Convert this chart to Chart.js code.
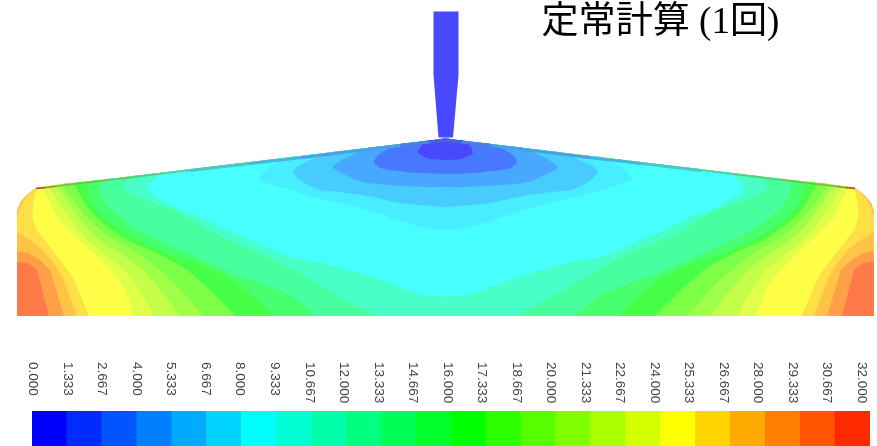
<!DOCTYPE html>
<html><head><meta charset="utf-8">
<style>
html,body{margin:0;padding:0;background:#fff}
#wrap{position:relative;width:877px;height:446px;overflow:hidden}
canvas{position:absolute;left:0}
#ttl{position:absolute;left:541.5px;top:-1px;font-size:37.1px;line-height:44px;white-space:nowrap;color:#000;font-family:"Liberation Serif","Noto Sans CJK JP",serif}
</style>
<script src="https://cdn.jsdelivr.net/npm/chart.js@4"></script>
</head><body>
<div id="wrap">
<canvas id="field" width="877" height="330" style="top:0"></canvas>
<canvas id="bar" width="877" height="96" style="top:350px"></canvas>
<div id="ttl">定常計算 (1回)</div>
</div>
<script>
const tickLabels=["0.000","1.333","2.667","4.000","5.333","6.667","8.000","9.333","10.667","12.000","13.333","14.667","16.000","17.333","18.667","20.000","21.333","22.667","24.000","25.333","26.667","28.000","29.333","30.667","32.000"];
const tickValues=[0,1.333,2.667,4,5.333,6.667,8,9.333,10.667,12,13.333,14.667,16,17.333,18.667,20,21.333,22.667,24,25.333,26.667,28,29.333,30.667,32];
const barColors=["#0000ff","#002bff","#0055ff","#0080ff","#00aaff","#00d4ff","#00ffff","#00ffd4","#00ffaa","#00ff80","#00ff55","#00ff2b","#00ff00","#2bff00","#55ff00","#80ff00","#aaff00","#d4ff00","#ffff00","#ffd400","#ffaa00","#ff8000","#ff5500","#ff2b00"];
const barLevels=[1,1,1,1,1,1,1,1,1,1,1,1,1,1,1,1,1,1,1,1,1,1,1,1];
const centre=445.5;
const apex=[445.5,138.5];
const nearApex=[438,139.4];
const outline=[[17,316],[17,212],[20,203],[25,197],[33,190],[38,187.5]];
const c22=[[49,316],[37,270],[28,263],[17,262],[17,212],[20,203],[25,197],[33,190],[38,187.5]];
const c21=[[64,316],[50,270],[40,260],[28,253],[17,251],[17,212],[20,203],[25,197],[33,190],[38,187.5]];
const c20=[[77,316],[63,278],[55,265],[43,250],[33,242],[24,236],[17,232],[17,218],[19,210],[24,200],[30,193],[36,188]];
const c19=[[89,316],[73,278],[62,262],[47,243],[37,230],[33,218],[33,205],[38,187.5],[50,186.2]];
const c18=[[135,316],[123,287],[110,270],[90,250],[72,233],[57,217],[50,202],[43,187],[60,185]];
const c17=[[154,316],[140,290],[127,272],[110,258],[93,245],[77,228],[63,210],[55,197],[50,186],[67,184.2]];
const c16=[[180,316],[163,293],[143,270],[123,255],[100,240],[83,223],[70,205],[62,193],[57,185],[75,183.2]];
const c15=[[204,316],[187,297],[160,270],[137,253],[110,237],[90,220],[77,205],[68,193],[63,184],[80,182.6]];
const c14=[[236,316],[213,293],[187,270],[157,253],[127,240],[103,223],[88,208],[80,195],[75,183],[92,181.2]];
const c13=[[273,316],[250,293],[227,277],[197,263],[163,252],[133,237],[107,220],[93,205],[88,192],[90,181.4],[105,179.6]];
const c12=[[317,316],[290,295],[260,283],[230,272],[197,257],[165,243],[135,228],[110,208],[100,190],[105,179.6],[120,177.8]];
const c11=[[375,316],[333,293],[290,268],[260,253],[213,233],[180,213],[150,202],[127,192],[123,187],[130,176.6],[145,174.8]];
const c10=[[445.5,297],[423,295],[373,277],[323,263],[290,257],[267,247],[233,233],[200,217],[173,207],[147,190],[153,180],[165,172.4],[180,170.5]];
const c5=[[445.5,230],[425,228],[407,223],[357,207],[313,197],[300,193],[260,180],[266,170],[285,157.9],[300,156.1]];
const c4=[[445.5,207],[400,203],[373,197],[340,192],[320,190],[303,182],[293,172],[300,165],[330,152.4],[345,150.6]];
const c3=[[445.5,187],[423,187],[363,182],[333,168],[337,163],[350,156],[370,147.6],[385,145.8]];
const c2=[[445.5,174],[417,173],[380,168],[374,162],[378,155],[390,148],[400,144],[412,142.5]];
const c1=[[445.5,160],[430,159],[418,153],[423,143],[427,140.8],[432,140.1]];
const bands=[outline,c22,c21,c20,c19,c18,c17,c16,c15,c14,c13,c12,c11,c10,c5,c4,c3,c2,c1];
const bandColors=["#ff7a48","#ffa048","#ffc348","#ffdf48","#ffff48","#dfff48","#c3ff48","#a0ff48","#7dff48","#48ff48","#48ff70","#48ffa0","#48ffc8","#48ffff","#48eeff","#48ccff","#48a8ff","#4878ff","#4848ff"];
const nozzle=[[433.5,11.5],[458.5,11.5],[458.5,75],[453,137.5],[438.5,137.5],[433.5,75]];
const nozzleColor="#4848ff";
const edgeOuter=[[36,188.4],[45,187.6],[55,186.4],[80,183.4],[110,179.8],[150,175],[190,170.2]];
const edgeOuterColors=["#a85a3c","#a09040","#88b840","#68c850","#54d078","#50d0a0"];
const edgeInner=[[190,170.6],[250,163.6],[300,157.8],[400,145.6],[430,142],[445.5,140.6]];
const edgeInnerColors=["#48c8c8","#48b4dc","#4aa0e0","#4a80e0","#4a60e0"];

const toPts=a=>a.map(p=>({x:p[0],y:p[1]}));
const mirror=a=>a.slice().reverse().map(p=>[2*centre-p[0],p[1]]);
const closed=a=>toPts([...a,nearApex,apex,...mirror([nearApex]),...mirror(a)]);
const ds=[];
bands.forEach((b,i)=>ds.push({data:closed(b),backgroundColor:bandColors[i],borderWidth:0,fill:'shape',showLine:true,pointRadius:0,tension:i<4?0:0.22,order:100-i}));
ds.push({data:toPts(nozzle),backgroundColor:nozzleColor,borderColor:nozzleColor,borderWidth:0,fill:'shape',showLine:true,pointRadius:0,order:50});
function strip(pts,cols,w){
  ds.push({data:toPts(pts),borderColor:cols[0],borderWidth:w,showLine:true,fill:false,pointRadius:0,order:10,segment:{borderColor:c=>cols[c.p0DataIndex]}});
  ds.push({data:toPts(pts.map(p=>[2*centre-p[0],p[1]])),borderColor:cols[0],borderWidth:w,showLine:true,fill:false,pointRadius:0,order:10,segment:{borderColor:c=>cols[c.p0DataIndex]}});
}
strip(edgeOuter,edgeOuterColors,1.8);
strip(edgeInner,edgeInnerColors,3);
new Chart(document.getElementById('field'),{type:'scatter',data:{datasets:ds},options:{
 responsive:false,animation:false,events:[],
 layout:{padding:0},
 plugins:{legend:{display:false},tooltip:{enabled:false},title:{display:false}},
 scales:{x:{type:'linear',min:0,max:877,display:false},y:{type:'linear',min:0,max:330,reverse:true,display:false}}
}});
new Chart(document.getElementById('bar'),{type:'bar',
 data:{labels:barColors.map((c,i)=>i),datasets:[{data:barLevels,backgroundColor:barColors,borderWidth:0,barPercentage:1,categoryPercentage:1,xAxisID:'x',yAxisID:'y'}]},
 options:{responsive:false,animation:false,events:[],
 layout:{padding:{left:32,right:7,top:0,bottom:0}},
 plugins:{legend:{display:false},tooltip:{enabled:false}},
 scales:{
  x:{type:'category',display:false},
  y:{type:'linear',min:0,max:1,display:false},
  t:{type:'linear',position:'top',min:1.234,max:32.30,
     afterBuildTicks(s){s.ticks=tickValues.map(v=>({value:v}));},
     afterFit(s){s.height=61;s.paddingLeft=0;s.paddingRight=0;},
     grid:{display:false,drawTicks:false},border:{display:false},
     ticks:{autoSkip:false,minRotation:-90,maxRotation:-90,padding:49,color:'#444',font:{family:'"Liberation Sans"',size:13.5},
       callback:(v,i)=>tickLabels[i]}}
 }}});
</script>
</body></html>
